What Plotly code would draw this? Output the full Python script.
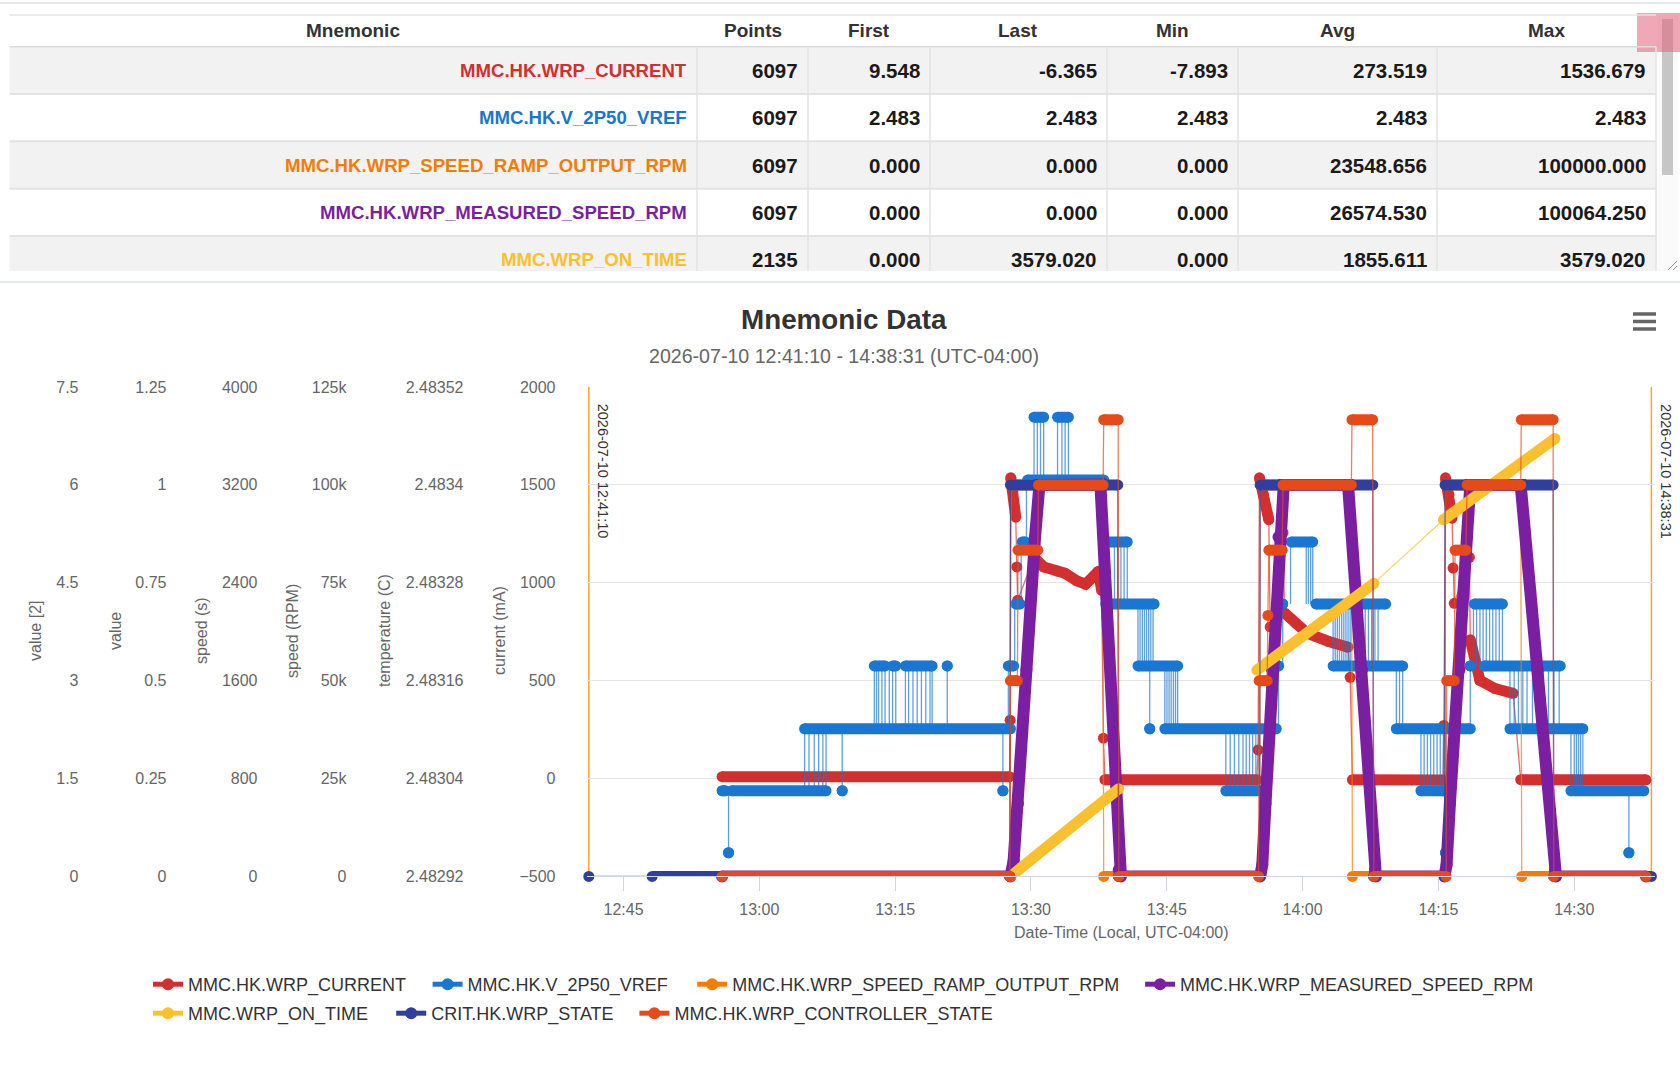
import plotly.graph_objects as go

W, H = 1680, 1067
FONT = "Liberation Sans, Arial, Helvetica, sans-serif"
DAY = "2026-07-10 "
GAP = "gap"

# ---------------- summary table values ----------------
tbl_headers = ["Mnemonic", "Points", "First", "Last", "Min", "Avg", "Max"]
tbl_mnemonic = ["MMC.HK.WRP_CURRENT", "MMC.HK.V_2P50_VREF", "MMC.HK.WRP_SPEED_RAMP_OUTPUT_RPM",
                "MMC.HK.WRP_MEASURED_SPEED_RPM", "MMC.WRP_ON_TIME"]
tbl_points = [6097, 6097, 6097, 6097, 2135]
tbl_first = [9.548, 2.483, 0.000, 0.000, 0.000]
tbl_last = [-6.365, 2.483, 0.000, 0.000, 3579.020]
tbl_min = [-7.893, 2.483, 0.000, 0.000, 0.000]
tbl_avg = [273.519, 2.483, 23548.656, 26574.530, 1855.611]
tbl_max = [1536.679, 2.483, 100000.000, 100064.250, 3579.020]

# ---------------- axes / ticks ----------------
x_range = ["12:40:58", "14:38:55"]
x_tickvals = ["12:45", "13:00", "13:15", "13:30", "13:45", "14:00", "14:15", "14:30"]
range_marks = ["12:41:10", "14:38:31"]
cur_ticks = [-500, 0, 500, 1000, 1500, 2000]
temp_ticks = [2.48292, 2.48304, 2.48316, 2.48328, 2.4834, 2.48352]
temp_labels = ["2.48292", "2.48304", "2.48316", "2.48328", "2.4834", "2.48352"]
rpm_ticks = [0, 25000, 50000, 75000, 100000, 125000]
rpm_labels = ["0", "25k", "50k", "75k", "100k", "125k"]
sec_ticks = [0, 800, 1600, 2400, 3200, 4000]
val_ticks = [0, 0.25, 0.5, 0.75, 1, 1.25]
val2_ticks = [0, 1.5, 3, 4.5, 6, 7.5]

# ---------------- series values (None = new dense run, GAP = no connection) ----------------
cur_t = ["12:55:53", "13:27:38", None, "13:27:42", None,
         "13:27:46", "13:28:00", "13:28:19", None, "13:28:26", None, "13:28:32", None,
         "13:30:20", "13:31:24", "13:32:56", "13:33:46", "13:35:04", "13:36:01", "13:36:51", "13:37:27", "13:37:48", None,
         "13:38:00", None, "13:38:10", "13:54:56", None, "13:55:05", None,
         "13:55:14", "13:55:40", "13:56:16", None, "13:56:25", None, "13:57:50", None,
         "13:58:00", "13:59:20", "14:00:31", "14:02:53", "14:05:01", None, "14:05:15", None,
         "14:05:30", "14:15:30", None, "14:15:36", None,
         "14:15:47", "14:16:10", "14:16:30", None, "14:16:37", None, "14:16:45", None, "14:18:25", None,
         "14:18:31", "14:19:00", "14:19:35", "14:21:14", "14:23:15", None,
         "14:24:05", "14:37:55"]
cur_v = [9.548, 9.5, None, 298.0, None,
         1536.679, 1470.0, 1335.0, None, 1081.0, None, 911.0, None,
         1130.0, 1081.0, 1060.0, 1048.0, 1010.0, 993.0, 1030.0, 1059.0, 961.0, None,
         206.0, None, -6.0, -6.2, None, 146.0, None,
         1536.0, 1450.0, 1322.0, None, 775.0, None, 1256.0, None,
         846.0, 790.0, 742.0, 700.0, 671.0, None, 517.0, None,
         -6.3, -7.893, None, 271.0, None,
         1536.0, 1450.0, 1330.0, None, 1075.0, None, 895.0, None, 1130.0, None,
         709.0, 590.0, 501.0, 460.0, 435.0, None,
         -6.0, -6.365]

vref_levels = [2.482949, 2.483025, 2.483101, 2.483178, 2.483254, 2.483330, 2.483406, 2.483483]
vref_band_start = ["12:55:53", "12:56:36", "12:56:57", "13:05:00", "13:09:09", "13:12:42", "13:14:43", "13:16:08",
                   "13:20:45", "13:26:54", "13:27:30", "13:28:19", "13:29:02", "13:29:38", "13:30:20", "13:32:56",
                   "13:38:09", "13:38:16", "13:41:49", "13:43:07", "13:44:47", "13:51:31", "13:57:20", "13:57:48",
                   "13:58:45", "14:01:28", "14:03:22", "14:10:21", "14:13:04", "14:15:47", "14:18:31", "14:18:59",
                   "14:20:03", "14:22:54", "14:29:38", "14:36:02"]
vref_band_end = ["12:56:15", "12:56:36", "13:07:22", "13:27:44", "13:09:09", "13:13:53", "13:15:04", "13:19:05",
                 "13:20:45", "13:26:54", "13:28:05", "13:28:48", "13:29:23", "13:38:02", "13:31:24", "13:34:08",
                 "13:40:38", "13:43:36", "13:46:12", "13:43:07", "13:57:05", "13:55:12", "13:57:20", "13:57:48",
                 "14:01:07", "14:09:10", "14:11:03", "14:18:31", "14:15:33", "14:15:47", "14:18:31", "14:22:04",
                 "14:28:27", "14:30:57", "14:37:41", "14:36:02"]
vref_band_level = [1, 0, 1, 2, 1, 3, 3, 3,
                   3, 1, 3, 4, 5, 6, 7, 7,
                   5, 4, 3, 2, 2, 1, 3, 4,
                   5, 4, 3, 2, 1, 0, 3, 4,
                   3, 2, 1, 0]
vref_step_t = ["12:56:36",
               "13:05:00", "13:05:29", "13:06:04", "13:06:33", "13:07:01", "13:07:22", "13:09:09",
               "13:12:42", "13:12:56", "13:13:10", "13:13:32", "13:13:53", "13:14:21", "13:14:43", "13:15:04",
               "13:16:08", "13:16:29", "13:16:58", "13:17:26", "13:17:54", "13:18:23", "13:18:51", "13:19:05",
               "13:20:45", "13:26:54", "13:27:30", "13:28:12", "13:28:55", "13:29:30",
               "13:30:20", "13:30:42", "13:31:03", "13:31:24", "13:32:56", "13:33:25", "13:33:46", "13:34:08",
               "13:38:05", "13:39:13", "13:39:34", "13:39:56", "13:40:17", "13:40:38",
               "13:41:49", "13:42:03", "13:42:18", "13:42:32", "13:42:46", "13:43:00", "13:43:14", "13:43:29",
               "13:43:07", "13:44:47", "13:45:01", "13:45:15", "13:45:29", "13:45:44", "13:45:58", "13:46:12",
               "13:51:31", "13:52:00", "13:52:28", "13:52:57", "13:53:25", "13:53:46", "13:54:08", "13:54:29",
               "13:54:50", "13:55:12", "13:57:20", "13:57:48", "13:58:40",
               "14:00:24", "14:00:38", "14:00:53", "14:01:07",
               "14:03:22", "14:03:36", "14:03:50", "14:04:04", "14:04:19", "14:04:33", "14:04:47", "14:05:01",
               "14:05:15", "14:06:55", "14:07:16", "14:07:37", "14:07:59", "14:08:20",
               "14:10:21", "14:10:42", "14:11:03",
               "14:13:04", "14:13:25", "14:13:47", "14:14:08", "14:14:29", "14:14:51", "14:15:12", "14:15:33",
               "14:15:47", "14:18:31", "14:18:52",
               "14:19:13", "14:19:35", "14:19:56", "14:20:17", "14:20:39", "14:21:00", "14:21:21", "14:21:43",
               "14:22:04", "14:22:54", "14:23:22", "14:23:50", "14:24:19", "14:24:47", "14:25:23", "14:25:58",
               "14:26:34", "14:27:09", "14:27:45", "14:28:20",
               "14:29:38", "14:30:00", "14:30:14", "14:30:28", "14:30:42", "14:30:57", "14:36:02"]
vref_step_lo = [0,
                1, 1, 1, 1, 1, 1, 1,
                2, 2, 2, 2, 2, 2, 2, 2,
                2, 2, 2, 2, 2, 2, 2, 2,
                2, 1, 2, 3, 4, 5,
                6, 6, 6, 6, 6, 6, 6, 6,
                5, 4, 4, 4, 4, 4,
                3, 3, 3, 3, 3, 3, 3, 3,
                2, 2, 2, 2, 2, 2, 2, 2,
                1, 1, 1, 1, 1, 1, 1, 1,
                1, 1, 2, 3, 4,
                4, 4, 4, 4,
                3, 3, 3, 3, 3, 3, 3, 3,
                3, 3, 3, 3, 3, 3,
                2, 2, 2,
                1, 1, 1, 1, 1, 1, 1, 1,
                0, 2, 3,
                3, 3, 3, 3, 3, 3, 3, 3,
                3, 2, 2, 2, 2, 2, 2, 2,
                2, 2, 2, 2,
                1, 1, 1, 1, 1, 1, 0]
vref_step_hi = [lvl + 1 for lvl in vref_step_lo]
vref_step_hi[vref_step_t.index("14:15:47")] = 2

srp_t = ["12:55:53", "13:27:40", None, "13:27:48", "13:37:55", None, "13:38:02", "13:55:15", None,
         "13:55:19", "14:05:23", None, "14:05:30", "14:15:43", None, "14:15:47", "14:24:05", None,
         "14:24:12", "14:37:55"]
srp_v = [0, 0, None, 100000, 100000, None, 0, 0, None,
         100000, 100000, None, 0, 0, None, 100000, 100000, None,
         0, 0]

msp_t = ["12:55:53", "13:27:44", "13:28:05", "13:28:34", "13:29:30", "13:30:27", "13:30:56",
         "13:37:40", "13:39:41", "13:39:56",
         "13:55:19", "13:55:33", "13:55:54", "13:56:37", "13:57:20", "13:57:55",
         "14:05:01", "14:06:34", "14:07:59", "14:08:06",
         "14:15:40", "14:15:54", "14:16:16", "14:17:20", "14:18:10", "14:18:31",
         "14:24:05", "14:25:58", "14:27:52", "14:27:59", "14:37:55"]
msp_v = [0, 0, 4000, 18600, 52800, 86700, 100000,
         100064.25, 1640, 0,
         0, 3000, 18600, 52800, 86700, 100000,
         100000, 52800, 1640, 0,
         0, 3000, 18600, 52800, 86700, 100000,
         100000, 52800, 1640, 0, 0]

ont_t = ["13:27:44", "13:39:41", GAP, "13:54:57", "14:07:52", None, "14:15:33", "14:27:52"]
ont_v = [0.0, 716.0, GAP, 1686.0, 2395.0, None, 2915.0, 3579.02]

crit_t = ["12:41:10", None, "12:48:10", "13:27:40", None, "13:27:44", "13:39:35", None,
          "13:39:40", "13:55:15", None, "13:55:19", "14:07:45", None, "14:07:50", "14:15:40", None,
          "14:15:44", "14:27:40", None, "14:27:44", "14:38:31"]
crit_v = [0, None, 0, 0, None, 1, 1, None,
          0, 0, None, 1, 1, None, 0, 0, None,
          1, 1, None, 0, 0]

ctl_t = ["12:55:53", "13:27:40", None, "13:27:44", "13:28:30", None, "13:28:34", "13:30:45", None,
         "13:30:50", "13:37:58", None, "13:38:02", "13:39:38", None, "13:39:42", "13:55:08", None,
         "13:55:12", "13:56:05", None, "13:56:10", None, "13:56:16", "13:57:45", None,
         "13:57:50", "14:05:23", None, "14:05:27", "14:07:44", None, "14:07:52", "14:15:51", None,
         "14:15:55", "14:16:45", None, "14:16:50", "14:18:02", None, "14:18:10", "14:24:05", None,
         "14:24:09", "14:27:40", None, "14:27:44", "14:37:55"]
ctl_v = [0, 0, None, 3, 3, None, 5, 5, None,
         6, 6, None, 7, 7, None, 0, 0, None,
         3, 3, None, 4, None, 5, 5, None,
         6, 6, None, 7, 7, None, 0, 0, None,
         3, 3, None, 5, 5, None, 6, 6, None,
         7, 7, None, 0, 0]

# ---------------- styling ----------------
SER = {
    "cur": ("MMC.HK.WRP_CURRENT", "#d32f2f", "y"),
    "vref": ("MMC.HK.V_2P50_VREF", "#1976d2", "y2"),
    "srp": ("MMC.HK.WRP_SPEED_RAMP_OUTPUT_RPM", "#f57c00", "y3"),
    "msp": ("MMC.HK.WRP_MEASURED_SPEED_RPM", "#7b1fa2", "y3"),
    "ont": ("MMC.WRP_ON_TIME", "#fbc02d", "y4"),
    "crit": ("CRIT.HK.WRP_STATE", "#303f9f", "y5"),
    "ctl": ("MMC.HK.WRP_CONTROLLER_STATE", "#e64a19", "y6"),
}
LEGEND_ORDER = ["cur", "vref", "srp", "msp", "ont", "crit", "ctl"]
LEGEND_ROW = {"cur": "legend", "vref": "legend", "srp": "legend", "msp": "legend",
              "ont": "legend2", "crit": "legend2", "ctl": "legend2"}
LEGEND_W = {"cur": 234.6, "vref": 219.6, "srp": 402.9, "msp": 360, "ont": 198.2, "crit": 198.2, "ctl": 330}
BAND = 11


def px(x):
    return x / W


def py(y):
    return 1 - y / H


def T(s):
    return DAY + s


def rgba(hexc, a):
    h = hexc.lstrip("#")
    return "rgba(%d,%d,%d,%.2f)" % (int(h[0:2], 16), int(h[2:4], 16), int(h[4:6], 16), a)


def thick_xy(ts, vs):
    xs, ys = [], []
    for t, v in zip(ts, vs):
        if t is None or t == GAP:
            xs.append(None)
            ys.append(None)
        else:
            xs.append(T(t))
            ys.append(v)
    return xs, ys


def thin_xy(ts, vs):
    xs, ys = [], []
    for t, v in zip(ts, vs):
        if t is None:
            continue
        if t == GAP:
            xs.append(None)
            ys.append(None)
            continue
        xs.append(T(t))
        ys.append(v)
    return xs, ys


fig = go.Figure()


def add_series(key, thin, thick, width=BAND):
    name, color, yax = SER[key]
    if thin is not None:
        fig.add_trace(go.Scatter(x=thin[0], y=thin[1], mode="lines", yaxis=yax, showlegend=False,
                                 legendgroup=key, hoverinfo="skip", cliponaxis=False,
                                 line=dict(color=rgba(color, 0.7), width=1.3)))
    fig.add_trace(go.Scatter(x=thick[0], y=thick[1], mode="lines+markers", yaxis=yax, name=name,
                             showlegend=False, legendgroup=key, cliponaxis=False, connectgaps=False,
                             line=dict(color=color, width=width), marker=dict(color=color, size=width)))


# current
add_series("cur", thin_xy(cur_t, cur_v), thick_xy(cur_t, cur_v))

# vref: dense bands + thin level transitions
bx, by = [], []
for s, e, lv in zip(vref_band_start, vref_band_end, vref_band_level):
    bx += [T(s), T(e), None]
    by += [vref_levels[lv], vref_levels[lv], None]
sx, sy = [], []
for t, lo, hi in zip(vref_step_t, vref_step_lo, vref_step_hi):
    sx += [T(t), T(t), None]
    sy += [vref_levels[lo], vref_levels[hi], None]
add_series("vref", (sx, sy), (bx, by))

add_series("srp", thin_xy(srp_t, srp_v), thick_xy(srp_t, srp_v))
add_series("msp", None, thick_xy(msp_t, msp_v), width=12)
add_series("ont", thin_xy(ont_t, ont_v), thick_xy(ont_t, ont_v))
add_series("crit", thin_xy(crit_t, crit_v), thick_xy(crit_t, crit_v))
add_series("ctl", thin_xy(ctl_t, ctl_v), thick_xy(ctl_t, ctl_v))

# legend entries (two rows, like the original wrapped legend)
for key in LEGEND_ORDER:
    name, color, yax = SER[key]
    fig.add_trace(go.Scatter(x=[None], y=[None], mode="lines+markers", yaxis=yax, name=name,
                             legendgroup=key, legend=LEGEND_ROW[key], legendwidth=LEGEND_W[key],
                             line=dict(color=color, width=3), marker=dict(color=color, size=10)))

# ---------------- layout geometry ----------------
PX0, PX1 = 587, 1655
PY0, PY1 = 387, 876.4
XD = [px(PX0), px(PX1)]
YD = [py(PY1), py(PY0)]

tickfont = dict(family=FONT, size=16, color="#666666")
base_y = dict(domain=YD, showgrid=False, zeroline=False, showline=False, ticks="",
              tickfont=tickfont, automargin=False, anchor="free", side="left")


def ypos(right_edge):
    return px(right_edge + 0.5)


layout_axes = dict(
    xaxis=dict(domain=XD, type="date", range=[T(x_range[0]), T(x_range[1])], anchor="y",
               tickvals=[T(t + ":00") for t in x_tickvals], ticktext=x_tickvals,
               ticks="outside", ticklen=14, tickcolor="#ccd6eb", tickwidth=1,
               showline=True, linecolor="#ccd6eb", linewidth=1, showgrid=False, zeroline=False,
               tickfont=tickfont, automargin=False, ticklabelstandoff=4),
    yaxis=dict(base_y, range=[-500, 2000], tickvals=cur_ticks, position=ypos(555),
               showgrid=True, gridcolor="#e6e6e6", gridwidth=1),
    yaxis2=dict(base_y, range=[temp_ticks[0], temp_ticks[-1]], tickvals=temp_ticks, ticktext=temp_labels,
                overlaying="y", position=ypos(463)),
    yaxis3=dict(base_y, range=[0, 125000], tickvals=rpm_ticks, ticktext=rpm_labels,
                overlaying="y", position=ypos(346)),
    yaxis4=dict(base_y, range=[0, 4000], tickvals=sec_ticks, overlaying="y", position=ypos(257)),
    yaxis5=dict(base_y, range=[0, 1.25], tickvals=val_ticks, overlaying="y", position=ypos(166)),
    yaxis6=dict(base_y, range=[0, 7.5], tickvals=val2_ticks, overlaying="y", position=ypos(78)),
)

shapes = []
annotations = []


def rect(x0, y0, x1, y1, fill):
    shapes.append(dict(type="rect", xref="paper", yref="paper", x0=px(x0), x1=px(x1),
                       y0=py(y1), y1=py(y0), fillcolor=fill, line=dict(width=0), layer="below"))


def seg(x0, y0, x1, y1, color, w):
    shapes.append(dict(type="line", xref="paper", yref="paper", x0=px(x0), x1=px(x1),
                       y0=py(y0), y1=py(y1), line=dict(color=color, width=w), layer="above"))


def text(x, y, s, size, color, xanchor="center", angle=0, bold=False):
    annotations.append(dict(x=px(x), y=py(y), xref="paper", yref="paper", showarrow=False,
                            text=("<b>%s</b>" % s) if bold else s, xanchor=xanchor, yanchor="middle",
                            textangle=angle, font=dict(family=FONT, size=size, color=color)))


# ---------------- table ----------------
COLS = [9.6, 697, 808, 930, 1107, 1238, 1437, 1656]
HEAD_TOP, HEAD_BOT, ROW_H, TBL_BOT = 15, 46.7, 47.33, 271
seg(0, 3, W, 3, "#e5e8ec", 2)
seg(COLS[0], HEAD_TOP, COLS[-1], HEAD_TOP, "#e6e6e6", 1.5)
for i in range(len(tbl_mnemonic)):
    top = HEAD_BOT + i * ROW_H
    bot = min(top + ROW_H, TBL_BOT)
    rect(COLS[0], top, COLS[-1], bot, "#f2f2f2" if i % 2 == 0 else "#ffffff")
    if top + ROW_H < TBL_BOT:
        seg(COLS[0], bot, COLS[-1], bot, "#e3e3e3", 2)
seg(COLS[0], HEAD_BOT, COLS[-1], HEAD_BOT, "#dcdcdc", 1.5)
for cx in COLS[1:]:
    seg(cx, HEAD_BOT, cx, TBL_BOT, "#e3e3e3", 1.5)
for j, hname in enumerate(tbl_headers):
    text((COLS[j] + COLS[j + 1]) / 2, 30.5, hname, 19, "#333333", bold=True)
cols_vals = [tbl_points, tbl_first, tbl_last, tbl_min, tbl_avg, tbl_max]
for i, mn in enumerate(tbl_mnemonic):
    yc = HEAD_BOT + (i + 0.5) * ROW_H
    text(COLS[1] - 8, yc, mn, 18.6, SER[LEGEND_ORDER[i]][1], xanchor="right", bold=True)
    for j, col in enumerate(cols_vals):
        v = col[i]
        s = str(v) if j == 0 else "%.3f" % v
        text(COLS[j + 2] - 8, yc, s, 20.5, "#1a1a1a", xanchor="right", bold=True)
# scrollbar / corner widgets
rect(1657, HEAD_TOP, 1678, TBL_BOT, "#fafafa")
rect(1662, 19, 1673, 175, "#c6c6c6")
seg(1668, 270, 1677, 261, "#9a9a9a", 1)
seg(1673, 270, 1677, 266, "#9a9a9a", 1)
rect(1637, 13, 1680, 52, "rgba(228,96,124,0.55)")
seg(0, 282, W, 282, "#e4e8ee", 2)

# ---------------- chart decorations ----------------
text(844, 319, "Mnemonic Data", 27.8, "#333333", bold=True)
text(844, 356, "2026-07-10 12:41:10 - 14:38:31 (UTC-04:00)", 19.6, "#666666")
for yb in (314, 321.5, 329):
    seg(1633, yb, 1656, yb, "#666666", 3.5)
text(1121, 932, "Date-Time (Local, UTC-04:00)", 16, "#666666")
for xc, lab in [(35, "value [2]"), (115, "value"), (201, "speed (s)"), (292, "speed (RPM)"),
                (384, "temperature (C)"), (499, "current (mA)")]:
    text(xc, 631, lab, 16, "#666666", angle=-90)

for t in range_marks:
    shapes.append(dict(type="line", xref="x", yref="paper", x0=T(t), x1=T(t), y0=YD[0], y1=YD[1],
                       line=dict(color="#f5a623", width=1.5), layer="between"))
    annotations.append(dict(x=T(t), y=py(402), xref="x", yref="paper", showarrow=False, text=DAY + t,
                            textangle=90, xanchor="left", yanchor="top", xshift=4,
                            font=dict(family=FONT, size=14.5, color="#333333")))

legend_common = dict(orientation="h", x=px(148), xanchor="left", yanchor="top",
                     font=dict(family=FONT, size=18, color="#333333"), traceorder="normal",
                     itemsizing="constant", bgcolor="rgba(0,0,0,0)", borderwidth=0)

fig.update_layout(
    width=W, height=H, margin=dict(l=0, r=0, t=0, b=0, pad=0),
    paper_bgcolor="#ffffff", plot_bgcolor="#ffffff", template="none",
    font=dict(family=FONT, color="#333333"),
    showlegend=True,
    legend=dict(legend_common, y=py(966)),
    legend2=dict(legend_common, y=py(995)),
    shapes=shapes, annotations=annotations, hovermode=False,
    **layout_axes,
)

fig.write_html("out.html", config={"displayModeBar": False})
